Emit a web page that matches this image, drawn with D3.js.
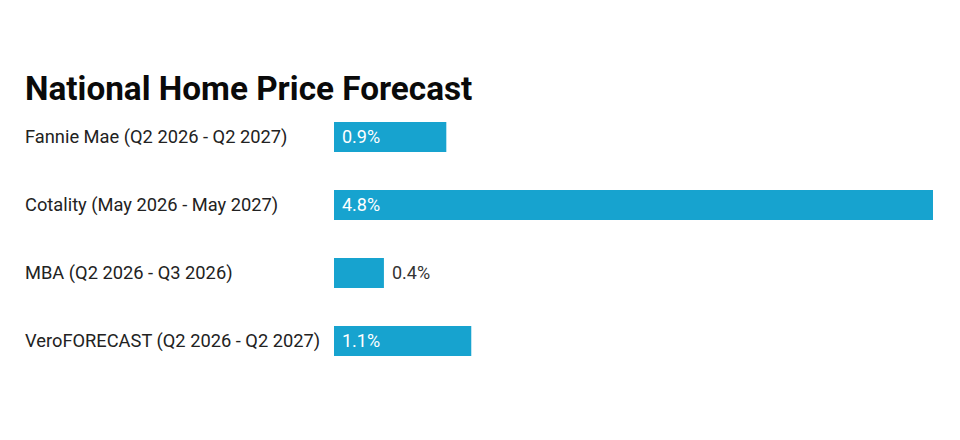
<html>
<head>
    <script src="https://d3js.org/d3.v7.min.js"></script>
    <style>
        body { margin: 0; background: white; }
        text { font-family: Roboto, "Noto Sans", sans-serif; }
        .title { font-weight: 700; font-size: 33.3px; fill: #0a0a0a; }
        .label { font-size: 18.3px; fill: #222; }
        .value { font-size: 18px; }
    </style>
</head>
<body>
    <svg id="chart" width="960" height="440"></svg>
</body>
<script>
    const sources = ["Fannie Mae (Q2 2026 - Q2 2027)", "Cotality (May 2026 - May 2027)", "MBA (Q2 2026 - Q3 2026)", "VeroFORECAST (Q2 2026 - Q2 2027)"];
    const forecast = [0.9, 4.8, 0.4, 1.1];

    const svg = d3.select("#chart");
    const barColor = "#17a3cf";

    svg.append("text")
        .attr("class", "title")
        .attr("x", 25)
        .attr("y", 100)
        .text("National Home Price Forecast");

    const x = d3.scaleLinear()
        .domain([0, d3.max(forecast)])
        .range([334, 933]);

    const y = d3.scaleBand()
        .domain(sources)
        .range([84, 394])
        .padding(0.5588);

    const rows = svg.selectAll("g.row")
        .data(sources.map((s, i) => ({ name: s, value: forecast[i] })))
        .enter()
        .append("g")
        .attr("class", "row");

    rows.append("text")
        .attr("class", "label")
        .attr("x", 25)
        .attr("y", d => y(d.name) + y.bandwidth() / 2)
        .attr("dy", "0.35em")
        .text(d => d.name);

    rows.append("rect")
        .attr("x", x(0))
        .attr("y", d => y(d.name))
        .attr("width", d => x(d.value) - x(0))
        .attr("height", y.bandwidth())
        .attr("fill", barColor);

    rows.append("text")
        .attr("class", "value")
        .attr("y", d => y(d.name) + y.bandwidth() / 2)
        .attr("dy", "0.35em")
        .text(d => d.value.toFixed(1) + "%")
        .each(function (d) {
            const w = this.getComputedTextLength();
            const barW = x(d.value) - x(0);
            const inside = barW > w + 20;
            d3.select(this)
                .attr("x", inside ? x(0) + 8 : x(d.value) + 8)
                .attr("fill", inside ? "white" : "#333");
        });
</script>
</html>
